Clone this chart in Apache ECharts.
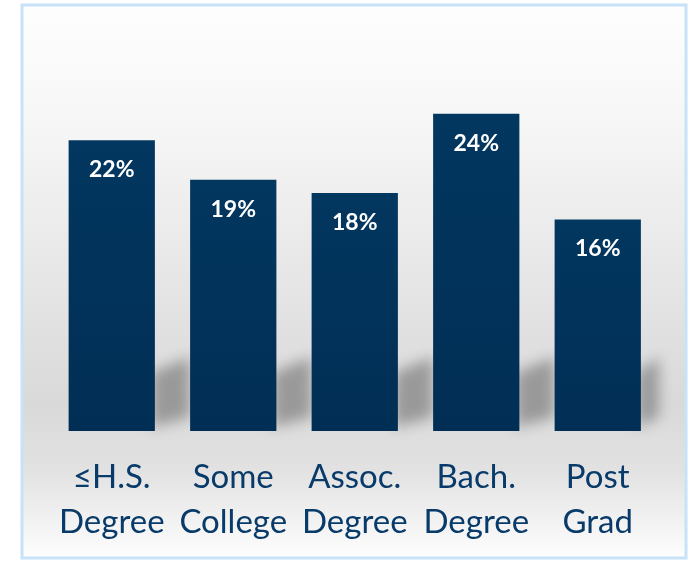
<!DOCTYPE html>
<html>
<head>
<meta charset="utf-8">
<script src="https://cdn.jsdelivr.net/npm/echarts@6/dist/echarts.min.js"></script>
<style>
  html, body { margin: 0; padding: 0; background: #fff; }
  #chart { width: 697px; height: 562px; }
</style>
</head>
<body>
<div id="chart"></div>
<script>
// data
var categories = ['≤H.S.\nDegree', 'Some\nCollege', 'Assoc.\nDegree', 'Bach.\nDegree', 'Post\nGrad']
var shares = [22, 19, 18, 24, 16]

var chart = echarts.init(document.getElementById('chart'))

// soft "cast" shadow in the gap to the right of each bar.
// the shape is drawn off screen and only its blurred shadow is moved back in place
var SHIFT = 2000
function renderShadow (params, api) {
  var base = api.coord([api.value(0), 0])
  var size = api.size([1, 0])
  var barW = size[0] * 0.71
  var xR = base[0] + barW / 2
  var y0 = base[1]
  var w = params.dataIndex === shares.length - 1 ? 18 : size[0] - barW
  var pts = [[xR - 4, y0 - 4], [xR - 4, y0 - 58], [xR + w, y0 - 74], [xR + w, y0 - 14]]
  return {
    type: 'polygon',
    shape: { points: pts.map(function (p) { return [p[0] - SHIFT, p[1]] }) },
    style: {
      fill: '#9a9a9a',
      shadowBlur: 14,
      shadowOffsetX: SHIFT,
      shadowColor: 'rgba(150,150,150,0.95)'
    }
  }
}

var option = {
  animation: false,
  graphic: [{
    type: 'rect',
    z: 0,
    shape: { x: 22, y: 5, width: 664, height: 553 },
    style: {
      stroke: '#c8e2f7',
      lineWidth: 3,
      fill: {
        type: 'linear', x: 0, y: 0, x2: 0, y2: 1,
        colorStops: [
          { offset: 0, color: '#fefefe' },
          { offset: 0.22, color: '#f6f6f6' },
          { offset: 0.72, color: '#d9d9d9' },
          { offset: 0.84, color: '#e2e2e2' },
          { offset: 1, color: '#fefefe' }
        ]
      }
    }
  }],
  grid: { left: 51, right: 38.5, top: 34.4, bottom: 131 },
  xAxis: {
    type: 'category',
    data: categories,
    axisLine: { show: false },
    axisTick: { show: false },
    axisLabel: {
      interval: 0,
      margin: 24,
      color: '#093b6a',
      fontFamily: 'Lato',
      fontSize: 33,
      lineHeight: 45
    }
  },
  yAxis: {
    type: 'value',
    min: 0,
    max: 30,
    show: false
  },
  series: [{
    type: 'custom',
    renderItem: renderShadow,
    data: shares.map(function (v, i) { return [i, v] }),
    clip: false,
    z: 1,
    silent: true
  }, {
    type: 'bar',
    data: shares,
    barWidth: '71%',
    z: 3,
    itemStyle: {
      color: {
        type: 'linear', x: 0, y: 0, x2: 0, y2: 1,
        colorStops: [
          { offset: 0, color: '#02375f' },
          { offset: 1, color: '#012e55' }
        ]
      }
    },
    label: {
      show: true,
      position: 'insideTop',
      distance: 18,
      color: '#ffffff',
      fontFamily: 'Lato',
      fontWeight: 'bold',
      fontSize: 23,
      formatter: '{c}%'
    }
  }]
}
chart.setOption(option)
</script>
</body>
</html>
